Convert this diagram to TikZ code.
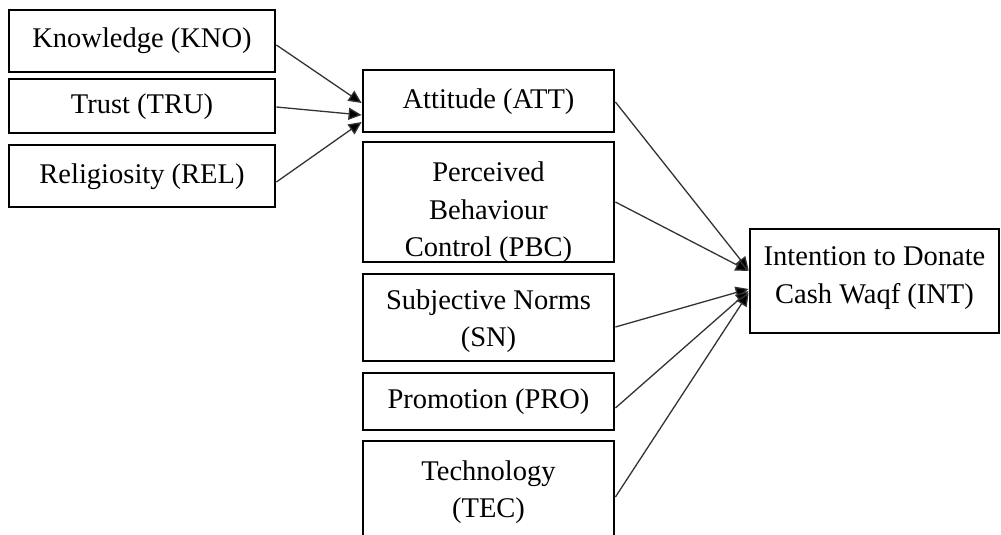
\documentclass[tikz,border=0pt]{standalone}
\usepackage{fontspec}
\setmainfont{Liberation Serif}
\usetikzlibrary{arrows.meta}
\begin{document}
\begin{tikzpicture}[x=1pt,y=-1pt,
  box/.style={draw=black,line width=2.8pt,fill=white,inner sep=0pt,minimum width=251pt},
  lbl/.style={align=center,inner sep=0pt,font=\fontsize{28.5}{37.5}\selectfont},
  conn/.style={draw=black!80,line width=1.3pt,-{Triangle[length=13pt,width=12pt,fill=black]}}]
\useasboundingbox (0,0) rectangle (1001,535);
\clip (0,0) rectangle (1001,535);
% left boxes
\node[box,minimum width=266pt,minimum height=62pt] (kno) at (142,41) {};
\node[lbl] (knot) at (142,41) {Knowledge (KNO)};
\node[box,minimum width=266pt,minimum height=54pt] (tru) at (142,106) {};
\node[lbl] (trut) at (142,107) {Trust (TRU)};
\node[box,minimum width=266pt,minimum height=62pt] (rel) at (142,176) {};
\node[lbl] (relt) at (142,177) {Religiosity (REL)};
% middle boxes
\node[box,minimum height=62pt] (att) at (488.5,101) {};
\node[lbl] (attt) at (488.5,102) {Attitude (ATT)};
\begin{scope}
\clip (363,142) rectangle (614,261);
\node[lbl] (pbct) at (488.5,212.5) {Perceived\\Behaviour\\Control (PBC)};
\end{scope}
\node[box,fill=none,minimum height=120pt] (pbc) at (488.5,202) {};
\node[box,minimum height=87pt] (sn) at (488.5,317.5) {};
\node[lbl] (snt) at (488.5,321) {Subjective Norms\\(SN)};
\node[box,minimum height=57pt] (pro) at (488.5,401.5) {};
\node[lbl] (prot) at (488.5,401.5) {Promotion (PRO)};
\node[box,minimum height=119pt] (tec) at (488.5,500.5) {};
\node[lbl] (tect) at (488.5,492) {Technology\\(TEC)};
% right box
\node[box,minimum width=249pt,minimum height=104pt] (int) at (874.5,281) {};
\node[lbl] (intt) at (874.5,278) {Intention to Donate\\Cash Waqf (INT)};
% connectors
\draw[conn] ([yshift=-4pt]kno.east) -- ([yshift=-2pt]att.west);
\draw[conn] ([yshift=-1pt]tru.east) -- ([yshift=-14pt]att.west);
\draw[conn] ([yshift=-6pt]rel.east) -- ([yshift=-21pt]att.west);
\draw[conn] ([yshift=-1pt]att.east) -- ([yshift=11pt]int.west);
\draw[conn] (pbc.east) -- ([yshift=10pt]int.west);
\draw[conn] ([yshift=-9.5pt]sn.east) -- ([yshift=-8pt]int.west);
\draw[conn] ([yshift=-6.5pt]pro.east) -- ([yshift=-10pt]int.west);
\draw[conn] ([yshift=3.5pt]tec.east) -- ([yshift=-12pt]int.west);
\end{tikzpicture}
\end{document}
